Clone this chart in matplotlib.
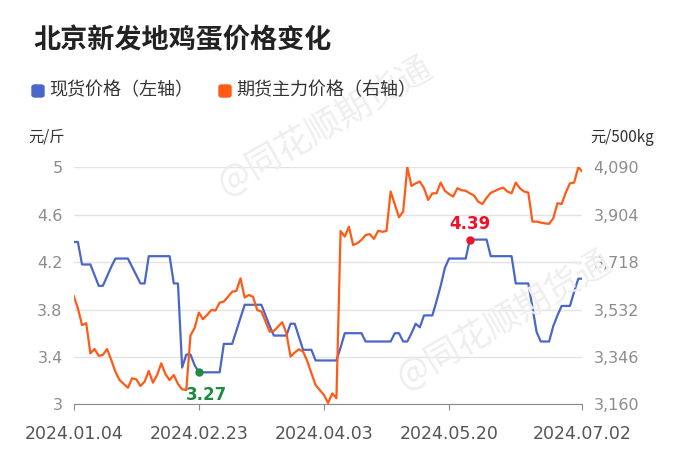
import numpy as np
import matplotlib.pyplot as plt
from matplotlib.patches import FancyBboxPatch

plt.rcParams['font.family'] = ['DejaVu Sans', 'Noto Sans CJK SC']
CJK = ['Noto Sans CJK SC', 'DejaVu Sans']

# ---- data ----
tick_idx = [0, 30, 60, 90, 122]
tick_labels = ["2024.01.04", "2024.02.23", "2024.04.03", "2024.05.20", "2024.07.02"]

spot = [
    4.37, 4.37, 4.18, 4.18, 4.18, 4.09, 4.00, 4.00, 4.08, 4.16,
    4.23, 4.23, 4.23, 4.23, 4.16, 4.09, 4.02, 4.02, 4.25, 4.25,
    4.25, 4.25, 4.25, 4.25, 4.02, 4.02, 3.31, 3.42, 3.42, 3.33,
    3.27, 3.27, 3.27, 3.27, 3.27, 3.27, 3.51, 3.51, 3.51, 3.62,
    3.73, 3.84, 3.84, 3.84, 3.84, 3.84, 3.75, 3.66, 3.58, 3.58,
    3.58, 3.58, 3.68, 3.68, 3.57, 3.46, 3.46, 3.46, 3.37, 3.37,
    3.37, 3.37, 3.37, 3.37, 3.48, 3.60, 3.60, 3.60, 3.60, 3.60,
    3.53, 3.53, 3.53, 3.53, 3.53, 3.53, 3.53, 3.60, 3.60, 3.53,
    3.53, 3.60, 3.68, 3.65, 3.75, 3.75, 3.75, 3.87, 4.00, 4.15,
    4.23, 4.23, 4.23, 4.23, 4.23, 4.39, 4.39, 4.39, 4.39, 4.39,
    4.25, 4.25, 4.25, 4.25, 4.25, 4.25, 4.02, 4.02, 4.02, 4.02,
    3.82, 3.61, 3.53, 3.53, 3.53, 3.66, 3.75, 3.83, 3.83, 3.83,
    3.95, 4.06, 4.06,
]

futures = [
    3585, 3537, 3471, 3478, 3360, 3377, 3350, 3354, 3377, 3334,
    3288, 3255, 3240, 3225, 3262, 3258, 3232, 3249, 3291, 3245,
    3275, 3321, 3278, 3255, 3275, 3240, 3219, 3216, 3430, 3460,
    3520, 3494, 3511, 3530, 3528, 3559, 3563, 3582, 3602, 3605,
    3654, 3579, 3589, 3582, 3530, 3524, 3485, 3445, 3448, 3465,
    3482, 3439, 3347, 3363, 3376, 3367, 3330, 3282, 3236, 3216,
    3197, 3165, 3203, 3184, 3840, 3818, 3857, 3785, 3792, 3805,
    3824, 3828, 3809, 3841, 3837, 3840, 3995, 3945, 3894, 3916,
    4090, 4017, 4027, 4034, 4008, 3962, 3988, 3988, 4030, 3998,
    3985, 3975, 4008, 4000, 3998, 3988, 3979, 3955, 3946, 3970,
    3990, 3997, 4005, 4010, 3995, 3988, 4030, 4008, 3995, 3991,
    3877, 3877, 3873, 3870, 3868, 3890, 3949, 3946, 3991, 4027,
    4030, 4090, 4073,
]

left_ticks = [3, 3.4, 3.8, 4.2, 4.6, 5]
left_labels = ["3", "3.4", "3.8", "4.2", "4.6", "5"]
right_ticks = [3160, 3346, 3532, 3718, 3904, 4090]

low_idx, low_val = 30, 3.27
high_idx, high_val = 95, 4.39

BLUE = "#4a66c8"
ORANGE = "#ff5a16"

fig = plt.figure(figsize=(7, 4.68), dpi=100)

# watermarks
for x, y in [(0.465, 0.73), (0.72, 0.315)]:
    fig.text(x, y, "@同花顺期货通", family=CJK, fontsize=25, color="#eeeeee",
             rotation=30, ha="center", va="center", zorder=0)

ax = fig.add_axes([0.1053, 0.1361, 0.7268, 0.5064])
ax2 = ax.twinx()
ax.patch.set_alpha(0)

x = np.arange(len(spot))
ax.plot(x, spot, color=BLUE, lw=1.6, zorder=3)
ax2.plot(x, futures, color=ORANGE, lw=1.6, zorder=3)

ax.set_xlim(0, len(spot) - 1)
ax.set_ylim(3, 5)
ax2.set_ylim(3160, 4090)

ax.set_yticks(left_ticks)
ax.set_yticklabels(left_labels)
ax2.set_yticks(right_ticks)
ax2.set_yticklabels([f"{v:,}" for v in right_ticks])
ax.set_xticks(tick_idx)
ax.set_xticklabels(tick_labels)

ax.grid(axis="y", color="#e3e3e3", lw=1)
for a in (ax, ax2):
    for s in ("top", "right", "left", "bottom"):
        a.spines[s].set_visible(False)
ax.spines["bottom"].set_visible(True)
ax.spines["bottom"].set_color("#8a8a8a")

ax.tick_params(axis="y", length=0, labelsize=11.5, labelcolor="#8c8c8c", pad=8)
ax2.tick_params(axis="y", length=0, labelsize=11.5, labelcolor="#8c8c8c", pad=8)
ax.tick_params(axis="x", length=4, color="#8a8a8a", labelsize=12.5,
               labelcolor="#555555", pad=11)

# highlight points
ax.plot(low_idx, low_val, "o", color="#1e8c3f", ms=5, zorder=5)
ax.annotate(f"{low_val:.2f}", (low_idx, low_val), xytext=(-9, -16),
            textcoords="offset points", color="#1e8c3f", fontsize=12,
            fontweight="bold", ha="left", va="center")
ax.plot(high_idx, high_val, "o", color="#f0102a", ms=5, zorder=5)
ax.annotate(f"{high_val:.2f}", (high_idx, high_val), xytext=(0, 11),
            textcoords="offset points", color="#f0102a", fontsize=12,
            fontweight="bold", ha="center", va="center")

# title, units, legend
fig.text(33 / 700, 1 - 40 / 468, "北京新发地鸡蛋价格变化", family=CJK,
         fontsize=19.5, fontweight="bold", color="#222222", va="center")
fig.text(28 / 700, 1 - 137 / 468, "元/斤", family=CJK, fontsize=11,
         color="#333333", va="center")
fig.text(590 / 700, 1 - 137 / 468, "元/500kg", family=CJK, fontsize=11,
         color="#333333", va="center")

for x0, col, label in [(32, BLUE, "现货价格（左轴）"), (219, ORANGE, "期货主力价格（右轴）")]:
    fig.patches.append(FancyBboxPatch((x0 / 700, 1 - 97 / 468), 12 / 700, 12 / 468,
                                      boxstyle="round,pad=0,rounding_size=0.004",
                                      transform=fig.transFigure, color=col))
    fig.text((x0 + 17) / 700, 1 - 90 / 468, label, family=CJK, fontsize=13,
             color="#333333", va="center")

fig.savefig("out.png", dpi=100)
